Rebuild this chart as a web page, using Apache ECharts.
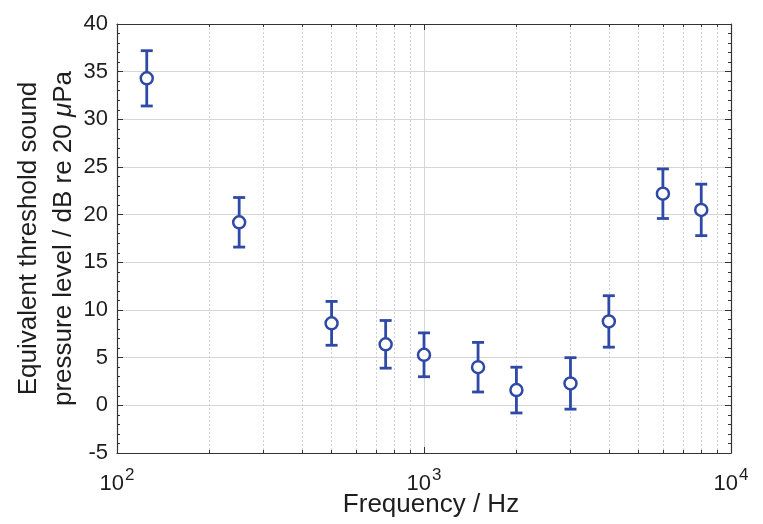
<!DOCTYPE html>
<html>
<head>
<meta charset="utf-8">
<script src="https://cdn.jsdelivr.net/npm/echarts@6/dist/echarts.min.js"></script>
<style>
  html, body { margin: 0; padding: 0; background: #fff; }
  #chart { width: 763px; height: 524px; }
</style>
</head>
<body>
<div id="chart"></div>
<script>
// Test frequencies (Hz)
const frequencies = [125, 250, 500, 750, 1000, 1500, 2000, 3000, 4000, 6000, 8000];
// Mean equivalent threshold SPL (dB re 20 µPa)
const thresholds = [34.3, 19.2, 8.6, 6.4, 5.3, 4.0, 1.6, 2.3, 8.8, 22.2, 20.5];
// Half-width of the error bars (dB)
const errors = [2.9, 2.6, 2.3, 2.5, 2.3, 2.6, 2.4, 2.7, 2.7, 2.6, 2.7];

// Axis ticks
const xMajorTicks = [100, 1000, 10000];
const xMinorTicks = [200, 300, 400, 500, 600, 700, 800, 900,
                     2000, 3000, 4000, 5000, 6000, 7000, 8000, 9000];
const yTicks = [-5, 0, 5, 10, 15, 20, 25, 30, 35, 40];

const blue = '#2f49a6';
const font = '"Liberation Sans", Arial, Helvetica, sans-serif';
const axisColor = '#333';
const textColor = '#1e1e1e';

const chart = echarts.init(document.getElementById('chart'), null, { renderer: 'canvas' });

function logAxis(position, opts) {
  return Object.assign({
    type: 'log',
    logBase: 10,
    min: 100,
    max: 10000,
    position: position,
    axisLine: { show: false, onZero: false },
    axisTick: { show: false },
    axisLabel: { show: false },
    splitLine: { show: false },
    minorTick: { show: false },
    minorSplitLine: { show: false }
  }, opts);
}

const option = {
  animation: false,
  backgroundColor: '#fff',
  grid: { left: 117, right: 32, top: 24, bottom: 71, containLabel: false, outerBoundsMode: 'none' },
  xAxis: [
    // bottom axis with decade labels and major ticks
    logAxis('bottom', {
      name: 'Frequency / Hz',
      nameLocation: 'middle',
      nameGap: 39,
      nameMoveOverlap: false,
      nameTextStyle: { fontFamily: font, fontSize: 26, color: textColor, padding: [0, 0, 0, 14] },
      axisLine: { show: true, onZero: false, lineStyle: { color: axisColor, width: 1.2 } },
      axisTick: { show: true, inside: true, length: 6, customValues: xMajorTicks,
                  lineStyle: { color: axisColor } },
      axisLabel: {
        show: true,
        customValues: xMajorTicks,
        margin: 20,
        formatter: v => '{b|10}{s|' + Math.round(Math.log10(v)) + '}',
        rich: {
          b: { fontFamily: font, fontSize: 22, color: textColor, verticalAlign: 'bottom', lineHeight: 22 },
          s: { fontFamily: font, fontSize: 17, color: textColor, verticalAlign: 'bottom', lineHeight: 18,
               padding: [0, 0, 11, 1] }
        }
      },
      splitLine: { show: true, lineStyle: { color: '#d6d6d6', width: 1 } }
    }),
    // bottom minor ticks and dotted minor grid
    logAxis('bottom', {
      axisTick: { show: true, inside: true, length: 3, customValues: xMinorTicks,
                  lineStyle: { color: axisColor } },
      splitLine: { show: true, lineStyle: { color: '#d0d0d0', width: 1, type: [2, 2] } }
    }),
    // top frame with ticks
    logAxis('top', {
      axisLine: { show: true, onZero: false, lineStyle: { color: axisColor, width: 1.2 } },
      axisTick: { show: true, inside: true, length: 6, customValues: xMajorTicks,
                  lineStyle: { color: axisColor } }
    }),
    logAxis('top', {
      axisTick: { show: true, inside: true, length: 3, customValues: xMinorTicks,
                  lineStyle: { color: axisColor } }
    })
  ],
  yAxis: [
    {
      type: 'value',
      min: -5,
      max: 40,
      interval: 5,
      position: 'left',
      name: 'Equivalent threshold sound\n{t|pressure level / dB re 20 }{i|μ}{t|Pa}',
      nameLocation: 'middle',
      nameRotate: 90,
      nameGap: 36,
      nameMoveOverlap: false,
      nameTextStyle: {
        fontFamily: font, fontSize: 26, color: textColor, lineHeight: 35,
        rich: {
          t: { fontFamily: font, fontSize: 26, color: textColor, lineHeight: 35 },
          i: { fontFamily: font, fontSize: 26, color: textColor, fontStyle: 'italic', lineHeight: 35 }
        }
      },
      axisLine: { show: true, onZero: false, lineStyle: { color: axisColor, width: 1.2 } },
      axisTick: { show: true, inside: true, length: 6, lineStyle: { color: axisColor } },
      minorTick: { show: true, splitNumber: 5, length: 3, lineStyle: { color: axisColor } },
      axisLabel: {
        fontFamily: font, fontSize: 22, color: textColor, margin: 9,
        lineHeight: 22,
        padding: [8, 0, 0, 0],
        customValues: yTicks
      },
      splitLine: { show: true, lineStyle: { color: '#d6d6d6', width: 1.2 } }
    },
    {
      type: 'value',
      min: -5,
      max: 40,
      interval: 5,
      position: 'right',
      axisLine: { show: true, onZero: false, lineStyle: { color: axisColor, width: 1.2 } },
      axisTick: { show: true, inside: true, length: 6, lineStyle: { color: axisColor } },
      minorTick: { show: true, splitNumber: 5, length: 3, lineStyle: { color: axisColor } },
      axisLabel: { show: false },
      splitLine: { show: false }
    }
  ],
  series: [
    {
      type: 'custom',
      xAxisIndex: 0,
      yAxisIndex: 0,
      data: frequencies.map((f, i) => [f, thresholds[i] - errors[i], thresholds[i] + errors[i]]),
      renderItem: function (params, api) {
        const f = api.value(0);
        const lo = api.coord([f, api.value(1)]);
        const hi = api.coord([f, api.value(2)]);
        const half = 6;
        const style = { stroke: blue, lineWidth: 2.8, fill: null };
        return {
          type: 'group',
          children: [
            { type: 'line', shape: { x1: lo[0], y1: lo[1], x2: hi[0], y2: hi[1] }, style: style },
            { type: 'line', shape: { x1: hi[0] - half, y1: hi[1], x2: hi[0] + half, y2: hi[1] }, style: style },
            { type: 'line', shape: { x1: lo[0] - half, y1: lo[1], x2: lo[0] + half, y2: lo[1] }, style: style }
          ]
        };
      },
      z: 3
    },
    {
      type: 'scatter',
      xAxisIndex: 0,
      yAxisIndex: 0,
      data: frequencies.map((f, i) => [f, thresholds[i]]),
      symbol: 'circle',
      symbolSize: 12,
      itemStyle: { color: '#fff', borderColor: blue, borderWidth: 2.5, opacity: 1 },
      z: 4
    }
  ]
};

chart.setOption(option);
</script>
</body>
</html>
